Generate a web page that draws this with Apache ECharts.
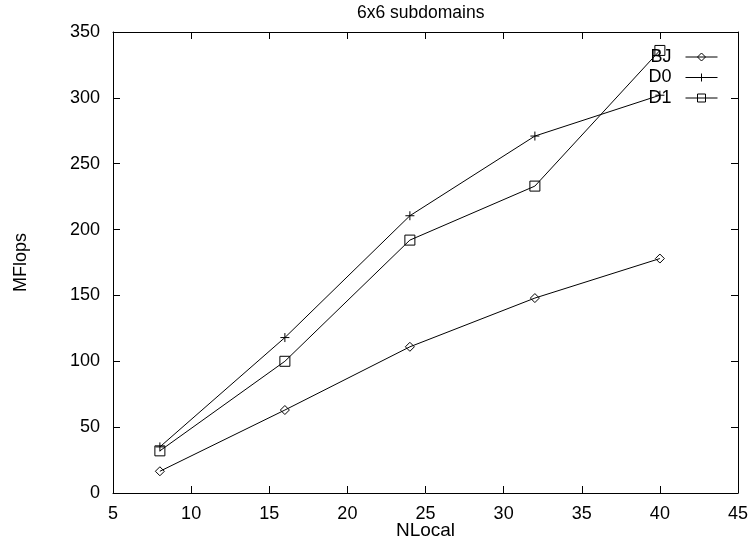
<html>
    <head>
        <meta charset="utf-8">
        <script src="https://cdn.jsdelivr.net/npm/echarts@6/dist/echarts.min.js"></script>
    </head>
    <body style="margin:0">
        <div id="main" style="width:752px;height:544px"></div>

        <script>

            // NLocal vs MFlops, 6x6 subdomains
            var nlocal = [8, 16, 24, 32, 40];
            var bj = [16.5, 63, 111, 148, 178];
            var d0 = [35, 118, 210.5, 271, 302];
            var d1 = [32, 100, 192, 233, 336];

            var font = 'Liberation Sans, Arial, sans-serif';

            function pairs(ys) {
                return nlocal.map(function (x, i) { return [x, ys[i]]; });
            }

            var hollow = {
                color: 'transparent',
                borderColor: '#000',
                borderWidth: 1
            };

            function lineSeries(name, symbol, size, ys) {
                return {
                    name: name,
                    type: 'line',
                    symbol: symbol,
                    symbolSize: size,
                    showAllSymbol: true,
                    lineStyle: {color: '#000', width: 1},
                    itemStyle: hollow,
                    emphasis: {disabled: true},
                    data: pairs(ys)
                };
            }

            var chart = echarts.init(document.getElementById('main'));

            var tick = {show: true, inside: true, length: 7, lineStyle: {color: '#000', width: 1}};
            var line = {show: true, onZero: false, lineStyle: {color: '#000', width: 1}};

            chart.setOption({
                animation: false,
                textStyle: {fontFamily: font},
                title: {
                    text: '6x6 subdomains',
                    left: 357,
                    top: 4,
                    padding: 0,
                    textStyle: {fontFamily: font, fontSize: 17.5, fontWeight: 'normal', color: '#000'}
                },
                legend: {
                    data: ['BJ', 'D0', 'D1'],
                    orient: 'vertical',
                    align: 'right',
                    right: 34,
                    top: 48,
                    padding: 0,
                    itemWidth: 32,
                    itemHeight: 10,
                    itemGap: 2.5,
                    lineStyle: {width: 1},
                    itemStyle: {borderWidth: 1},
                    textStyle: {fontFamily: font, fontSize: 18, lineHeight: 17, color: '#000', padding: [0, 9, 0, 0]}
                },
                grid: {left: 113, right: 14, top: 32, bottom: 51, containLabel: false, outerBoundsMode: 'none'},
                xAxis: [{
                    type: 'value',
                    min: 5,
                    max: 45,
                    interval: 5,
                    name: 'NLocal',
                    nameLocation: 'middle',
                    nameGap: 28,
                    nameMoveOverlap: false,
                    nameTextStyle: {fontFamily: font, fontSize: 19, color: '#000'},
                    axisLine: line,
                    axisTick: tick,
                    splitLine: {show: false},
                    axisLabel: {fontFamily: font, fontSize: 18, color: '#000', margin: 12}
                }, {
                    type: 'value',
                    position: 'top',
                    min: 5,
                    max: 45,
                    interval: 5,
                    axisLine: line,
                    axisTick: tick,
                    splitLine: {show: false},
                    axisLabel: {show: false}
                }],
                yAxis: [{
                    type: 'value',
                    min: 0,
                    max: 350,
                    interval: 50,
                    name: 'MFlops',
                    nameLocation: 'middle',
                    nameGap: 83,
                    nameMoveOverlap: false,
                    nameRotate: 90,
                    nameTextStyle: {fontFamily: font, fontSize: 18, color: '#000'},
                    axisLine: line,
                    axisTick: tick,
                    splitLine: {show: false},
                    axisLabel: {fontFamily: font, fontSize: 18, color: '#000', margin: 13}
                }, {
                    type: 'value',
                    position: 'right',
                    min: 0,
                    max: 350,
                    interval: 50,
                    axisLine: line,
                    axisTick: tick,
                    splitLine: {show: false},
                    axisLabel: {show: false}
                }],
                series: [
                    lineSeries('BJ', 'diamond', 9, bj),
                    lineSeries('D0', 'path://M0,5L10,5M5,0L5,10', 9, d0),
                    lineSeries('D1', 'rect', 10, d1)
                ]
            });

        </script>
    </body>
</html>
